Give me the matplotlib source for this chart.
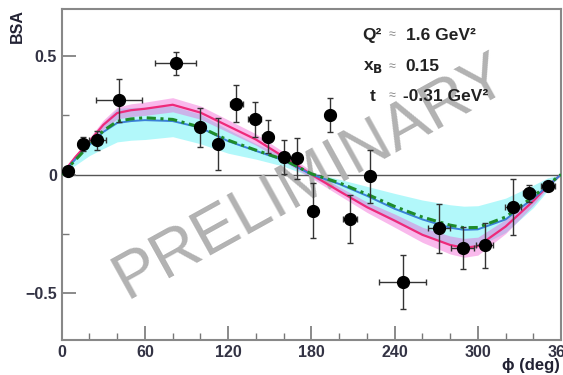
import numpy as np
import matplotlib
matplotlib.use("Agg")
import matplotlib.pyplot as plt
from matplotlib.ticker import MultipleLocator

plt.rcParams['font.family'] = ['Liberation Sans', 'DejaVu Sans']

# measured points
phi = [4.8, 15.1, 25.6, 41.3, 82.3, 100, 113, 126, 139, 148.6, 160, 169.6,
       181, 193.6, 208, 222, 245.7, 271.7, 289, 305, 325.4, 336.9, 350.6]
bsa = [0.014, 0.13, 0.145, 0.314, 0.47, 0.20, 0.127, 0.30, 0.233, 0.16, 0.075, 0.068,
       -0.153, 0.25, -0.188, -0.008, -0.455, -0.228, -0.31, -0.30, -0.137, -0.08, -0.047]
bsa_err = [0.012, 0.03, 0.04, 0.09, 0.05, 0.083, 0.11, 0.08, 0.074, 0.07, 0.072, 0.085,
           0.115, 0.072, 0.1, 0.112, 0.115, 0.105, 0.09, 0.095, 0.12, 0.035, 0.015]
phi_err = [3, 3, 6, 16.5, 14.7, 3, 3, 5, 5, 4, 3, 3,
           3, 3.5, 5, 3, 17, 8, 8, 6, 6, 4, 5]

# model curves
phi_model = [0, 10, 20, 30, 40, 50, 60, 80, 100, 120, 140, 160, 180,
             200, 220, 240, 260, 280, 290, 300, 320, 340, 350, 360]
pink = [0, 0.075, 0.14, 0.21, 0.26, 0.272, 0.278, 0.295, 0.262, 0.205, 0.148, 0.075, 0.0,
        -0.07, -0.138, -0.195, -0.255, -0.298, -0.31, -0.303, -0.22, -0.112, -0.05, 0.0]
pink_err = [0, 0.008, 0.015, 0.02, 0.025, 0.027, 0.028, 0.03, 0.028, 0.026, 0.024, 0.02, 0.015,
            0.018, 0.022, 0.028, 0.032, 0.038, 0.04, 0.038, 0.03, 0.018, 0.01, 0]
blue = [0, 0.065, 0.125, 0.18, 0.218, 0.226, 0.23, 0.226, 0.198, 0.141, 0.1, 0.06, 0.0,
        -0.04, -0.09, -0.145, -0.19, -0.225, -0.234, -0.232, -0.19, -0.1, -0.05, 0]
cyan_hi = [0, 0.075, 0.15, 0.22, 0.28, 0.283, 0.285, 0.29, 0.255, 0.19, 0.13, 0.08, 0.01,
           -0.02, -0.05, -0.08, -0.108, -0.128, -0.134, -0.132, -0.1, -0.045, -0.015, 0]
cyan_lo = [0, 0.04, 0.08, 0.11, 0.138, 0.145, 0.148, 0.16, 0.13, 0.09, 0.065, 0.035, -0.01,
           -0.07, -0.14, -0.2, -0.255, -0.295, -0.31, -0.305, -0.245, -0.14, -0.07, 0]
green = [0, 0.062, 0.125, 0.185, 0.225, 0.235, 0.24, 0.233, 0.2, 0.145, 0.103, 0.063, 0.003,
         -0.035, -0.083, -0.135, -0.18, -0.214, -0.225, -0.224, -0.18, -0.093, -0.045, 0]

fig = plt.figure(figsize=(5.63, 3.75), dpi=100)
ax = fig.add_axes([0.1096, 0.0933, 0.887, 0.8827])

pink_a = np.array(pink)
pink_e = np.array(pink_err)
ax.fill_between(phi_model, cyan_lo, cyan_hi, color='#55f0f5', alpha=0.45, lw=0, zorder=1)
ax.fill_between(phi_model, pink_a - pink_e, pink_a + pink_e, color='#f050d0', alpha=0.4, lw=0, zorder=1)
ax.plot(phi_model, pink, color='#ee2a7b', lw=1.6, zorder=2)
ax.plot(phi_model, blue, color='#3a80d8', lw=1.4, zorder=2)
ax.plot(phi_model, green, color='#1e8c2a', lw=2.2, ls=(0, (3, 1.5, 1, 1.5)), zorder=3)

ax.axhline(0, color='#555555', lw=1.0, zorder=1.5)

ax.errorbar(phi, bsa, yerr=bsa_err, xerr=phi_err, fmt='o', color='black', ecolor='#333333',
            ms=8.5, elinewidth=1.0, capsize=2.5, capthick=1.0, zorder=5)

# watermark, behind the curves and points
ax.text(0.568, 0.488, 'PRELIMINARY', transform=fig.transFigure, rotation=29,
        rotation_mode='anchor', ha='center', va='baseline', fontsize=47,
        color='#b2b2b2', zorder=1.7)

ax.set_xlim(0, 360)
ax.set_ylim(-0.7, 0.7)
ax.xaxis.set_major_locator(MultipleLocator(60))
ax.xaxis.set_minor_locator(MultipleLocator(20))
ax.yaxis.set_major_locator(MultipleLocator(0.5))
ax.yaxis.set_minor_locator(MultipleLocator(0.25))
ax.set_yticks([-0.5, 0, 0.5])
ax.set_yticklabels(['\u22120.5', '0', '0.5'])
ax.tick_params(which='both', direction='in', color='#777777', top=False, right=False,
               labelsize=11.5, labelcolor='#333344')
ax.tick_params(which='major', length=10, width=1.2)
ax.tick_params(which='minor', length=5, width=1.0)
for lab in ax.get_xticklabels() + ax.get_yticklabels():
    lab.set_fontweight('bold')
for sp in ax.spines.values():
    sp.set_color('#888888')
    sp.set_linewidth(1.5)

fig.text(0.03, 0.976, 'BSA', rotation=90, ha='center', va='top', fontsize=11.5, fontweight='bold', color='#222233')
fig.text(0.995, 0.005, '\u03d5 (deg)', ha='right', va='bottom', fontsize=12, fontweight='bold', color='#222233')

tx = dict(fontsize=12.5, fontweight='bold', color='#222222')
ax.text(217, 0.59, 'Q\u00b2', ha='left', va='center', **tx)
ax.text(217, 0.455, r'x$_{\mathbf{B}}$', ha='left', va='center', **tx)
ax.text(222, 0.33, 't', ha='left', va='center', **tx)
for yy in [0.59, 0.455, 0.33]:
    ax.text(236, yy, '\u2248', ha='left', va='center', fontsize=9, color='#888888')
ax.text(248, 0.59, '1.6 GeV\u00b2', ha='left', va='center', **tx)
ax.text(248, 0.455, '0.15', ha='left', va='center', **tx)
ax.text(246, 0.33, '-0.31 GeV\u00b2', ha='left', va='center', **tx)

fig.savefig('out.png', dpi=100)
